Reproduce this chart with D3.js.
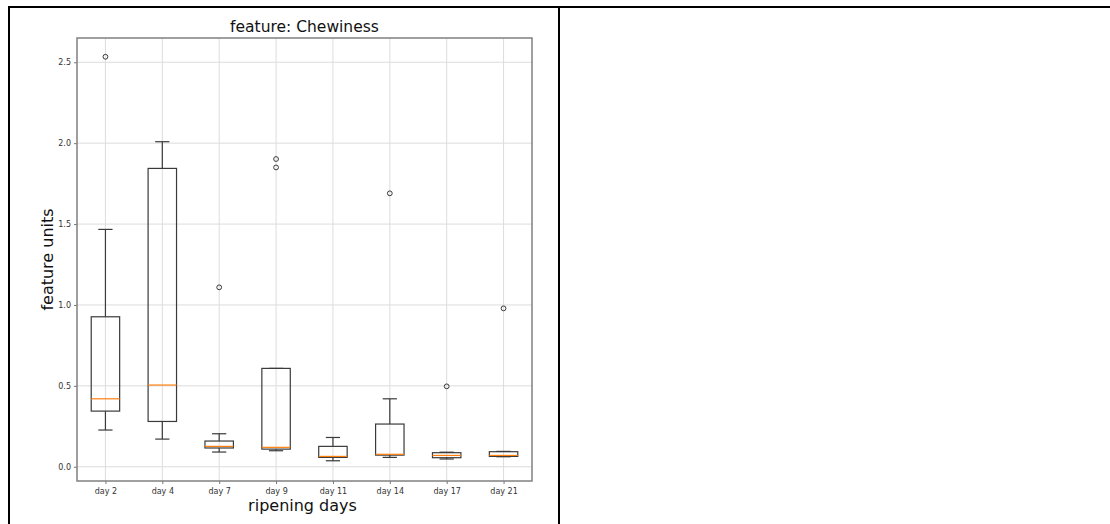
<!DOCTYPE html>
<html>
<head>
<meta charset="utf-8">
<script src="https://cdn.jsdelivr.net/npm/d3@7"></script>
<style>
  body { margin: 0; background: #fff; }
  svg { display: block; font-family: "DejaVu Sans", sans-serif; }
</style>
</head>
<body>
<div id="chart"></div>
<script>
const width = 1110;
const height = 524;

// box statistics
const days = ["day 2", "day 4", "day 7", "day 9", "day 11", "day 14", "day 17", "day 21"];
const whiskerLow = [0.227, 0.171, 0.091, 0.099, 0.037, 0.058, 0.048, 0.062];
const q1 = [0.344, 0.280, 0.116, 0.109, 0.058, 0.072, 0.056, 0.064];
const median = [0.420, 0.505, 0.126, 0.120, 0.064, 0.077, 0.070, 0.070];
const q3 = [0.927, 1.844, 0.159, 0.608, 0.126, 0.264, 0.087, 0.093];
const whiskerHigh = [1.467, 2.009, 0.204, 0.608, 0.181, 0.420, 0.090, 0.095];
const outliers = [[2.534], [], [1.109], [1.902, 1.850], [], [1.690], [0.497], [0.979]];
const yTicks = [0.0, 0.5, 1.0, 1.5, 2.0, 2.5];

const svg = d3.select("#chart")
    .append("svg")
    .attr("width", width)
    .attr("height", height);

// table frame around the figure
svg.append("line").attr("x1", 8).attr("x2", width).attr("y1", 7).attr("y2", 7)
    .attr("stroke", "#000").attr("stroke-width", 2);
svg.append("line").attr("x1", 9).attr("x2", 9).attr("y1", 6).attr("y2", height)
    .attr("stroke", "#000").attr("stroke-width", 2);
svg.append("line").attr("x1", 559).attr("x2", 559).attr("y1", 7).attr("y2", height)
    .attr("stroke", "#000").attr("stroke-width", 2);

const plot = { left: 77, right: 532, top: 38, bottom: 481 };

const x = d3.scaleLinear()
    .domain([0.5, days.length + 0.5])
    .range([plot.left, plot.right]);

const y = d3.scaleLinear()
    .domain([-0.088, 2.65])
    .range([plot.bottom, plot.top]);

const step = x(2) - x(1);
const boxW = step * 0.5;
const capW = boxW * 0.5;

// grid
const grid = svg.append("g");
grid.selectAll(".gx")
    .data(days)
    .join("line")
    .attr("x1", (d, i) => x(i + 1)).attr("x2", (d, i) => x(i + 1))
    .attr("y1", plot.top).attr("y2", plot.bottom)
    .attr("stroke", "#dcdcdc").attr("stroke-width", 1);
grid.selectAll(".gy")
    .data(yTicks)
    .join("line")
    .attr("x1", plot.left).attr("x2", plot.right)
    .attr("y1", d => y(d)).attr("y2", d => y(d))
    .attr("stroke", "#dcdcdc").attr("stroke-width", 1);

// axes
const xAxis = d3.axisBottom(x)
    .tickValues(days.map((d, i) => i + 1))
    .tickFormat((d, i) => days[i])
    .tickSize(3)
    .tickPadding(4);

const yAxis = d3.axisLeft(y)
    .tickValues(yTicks)
    .tickFormat(d3.format(".1f"))
    .tickSize(3)
    .tickPadding(3);

const gx = svg.append("g")
    .attr("transform", `translate(0,${plot.bottom})`)
    .call(xAxis);
const gy = svg.append("g")
    .attr("transform", `translate(${plot.left},0)`)
    .call(yAxis);

[gx, gy].forEach(g => {
    g.select(".domain").remove();
    g.selectAll(".tick line").attr("stroke", "#777");
    g.selectAll(".tick text")
        .attr("fill", "#333")
        .style("font-size", "8px")
        .style("font-family", "DejaVu Sans, sans-serif");
});

// spines
svg.append("rect")
    .attr("x", plot.left).attr("y", plot.top)
    .attr("width", plot.right - plot.left)
    .attr("height", plot.bottom - plot.top)
    .attr("fill", "none")
    .attr("stroke", "#808080")
    .attr("stroke-width", 1.5);

// boxes
const boxes = svg.append("g")
    .selectAll("g")
    .data(days)
    .join("g")
    .attr("transform", (d, i) => `translate(${x(i + 1)},0)`);

const lineColor = "#3a3a3a";

boxes.append("line")
    .attr("x1", 0).attr("x2", 0)
    .attr("y1", (d, i) => y(q3[i])).attr("y2", (d, i) => y(whiskerHigh[i]))
    .attr("stroke", lineColor).attr("stroke-width", 1.2);
boxes.append("line")
    .attr("x1", 0).attr("x2", 0)
    .attr("y1", (d, i) => y(q1[i])).attr("y2", (d, i) => y(whiskerLow[i]))
    .attr("stroke", lineColor).attr("stroke-width", 1.2);
boxes.append("line")
    .attr("x1", -capW / 2).attr("x2", capW / 2)
    .attr("y1", (d, i) => y(whiskerHigh[i])).attr("y2", (d, i) => y(whiskerHigh[i]))
    .attr("stroke", lineColor).attr("stroke-width", 1.2);
boxes.append("line")
    .attr("x1", -capW / 2).attr("x2", capW / 2)
    .attr("y1", (d, i) => y(whiskerLow[i])).attr("y2", (d, i) => y(whiskerLow[i]))
    .attr("stroke", lineColor).attr("stroke-width", 1.2);
boxes.append("rect")
    .attr("x", -boxW / 2)
    .attr("width", boxW)
    .attr("y", (d, i) => y(q3[i]))
    .attr("height", (d, i) => y(q1[i]) - y(q3[i]))
    .attr("fill", "none")
    .attr("stroke", lineColor).attr("stroke-width", 1.2);
boxes.append("line")
    .attr("x1", -boxW / 2).attr("x2", boxW / 2)
    .attr("y1", (d, i) => y(median[i])).attr("y2", (d, i) => y(median[i]))
    .attr("stroke", "#ff7f0e").attr("stroke-width", 1.2);

// fliers
boxes.selectAll("circle")
    .data((d, i) => outliers[i])
    .join("circle")
    .attr("cx", 0)
    .attr("cy", v => y(v))
    .attr("r", 2.4)
    .attr("fill", "none")
    .attr("stroke", lineColor)
    .attr("stroke-width", 1);

// labels
svg.append("text")
    .attr("x", (plot.left + plot.right) / 2)
    .attr("y", 32)
    .attr("text-anchor", "middle")
    .style("font-size", "15.5px")
    .attr("fill", "#111")
    .text("feature: Chewiness");

svg.append("text")
    .attr("x", (plot.left + plot.right) / 2 - 2)
    .attr("y", 511)
    .attr("text-anchor", "middle")
    .style("font-size", "16px")
    .attr("fill", "#111")
    .text("ripening days");

svg.append("text")
    .attr("transform", `translate(53,${(plot.top + plot.bottom) / 2}) rotate(-90)`)
    .attr("text-anchor", "middle")
    .style("font-size", "16px")
    .attr("fill", "#111")
    .text("feature units");
</script>
</body>
</html>
